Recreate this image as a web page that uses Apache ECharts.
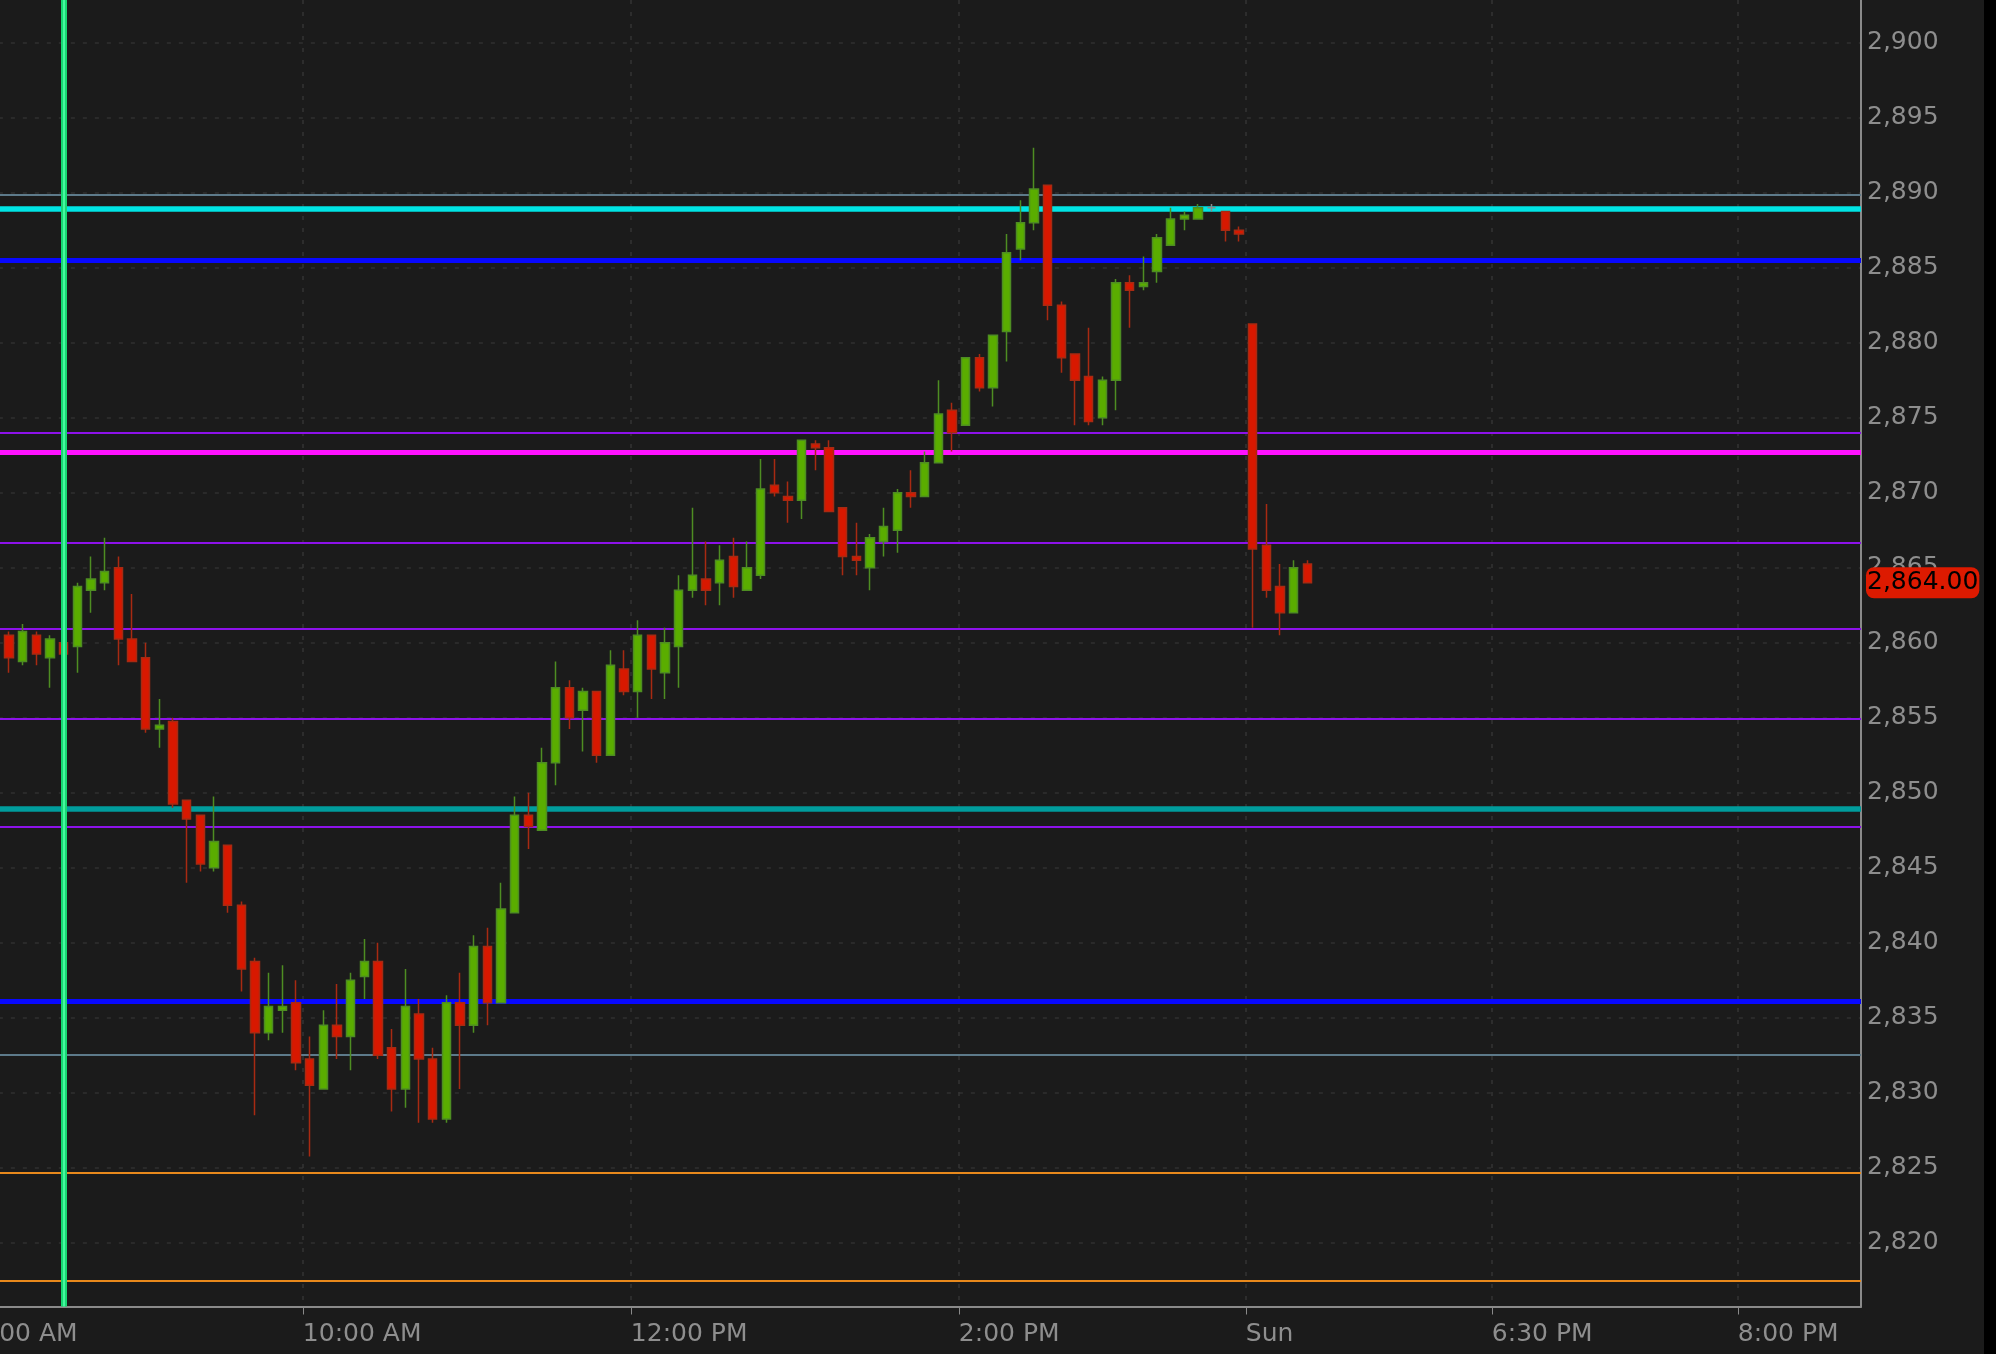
<!DOCTYPE html>
<html>
<head>
<meta charset="utf-8">
<script src="https://cdn.jsdelivr.net/npm/echarts@6/dist/echarts.min.js"></script>
<style>
  html, body { margin: 0; padding: 0; background: #000; }
  #chart { width: 1984px; height: 1354px; background: #1b1b1b; }
</style>
</head>
<body>
<div id="chart"></div>
<script>
// 5-minute candles, index 0..95
const opens = [
  2860.5, 2858.75, 2860.5, 2859.0, 2860.0, 2859.75, 2863.5, 2864.0, 2865.0, 2860.25,
  2859.0, 2854.25, 2854.75, 2849.5, 2848.5, 2845.0, 2846.5, 2842.5, 2838.75, 2834.0,
  2835.5, 2836.0, 2832.25, 2830.25, 2834.5, 2833.75, 2837.75, 2838.75, 2833.0, 2830.25,
  2835.25, 2832.25, 2828.25, 2836.0, 2834.5, 2839.75, 2836.0, 2842.0, 2848.5, 2847.5,
  2852.0, 2857.0, 2855.5, 2856.75, 2852.5, 2858.25, 2856.75, 2860.5, 2858.0, 2859.75,
  2863.5, 2864.25, 2864.0, 2865.75, 2863.5, 2864.5, 2870.5, 2869.75, 2869.5, 2873.25,
  2873.0, 2869.0, 2865.75, 2865.0, 2866.75, 2867.5, 2870.0, 2869.75, 2872.0, 2875.5,
  2874.5, 2879.0, 2877.0, 2880.75, 2886.25, 2888.0, 2890.5, 2882.5, 2879.25, 2877.75,
  2875.0, 2877.5, 2884.0, 2883.75, 2884.75, 2886.5, 2888.25, 2888.25, 2889.0, 2888.75,
  2887.5, 2881.25, 2866.5, 2863.75, 2862.0, 2865.25
];
const closes = [
  2859.0, 2860.75, 2859.25, 2860.25, 2859.25, 2863.75, 2864.25, 2864.75, 2860.25, 2858.75,
  2854.25, 2854.5, 2849.25, 2848.25, 2845.25, 2846.75, 2842.5, 2838.25, 2834.0, 2835.75,
  2835.75, 2832.0, 2830.5, 2834.5, 2833.75, 2837.5, 2838.75, 2832.5, 2830.25, 2835.75,
  2832.25, 2828.25, 2836.0, 2834.5, 2839.75, 2836.0, 2842.25, 2848.5, 2847.75, 2852.0,
  2857.0, 2855.0, 2856.75, 2852.5, 2858.5, 2856.75, 2860.5, 2858.25, 2860.0, 2863.5,
  2864.5, 2863.5, 2865.5, 2863.75, 2865.0, 2870.25, 2870.0, 2869.5, 2873.5, 2873.0,
  2868.75, 2865.75, 2865.5, 2867.0, 2867.75, 2870.0, 2869.75, 2872.0, 2875.25, 2874.0,
  2879.0, 2877.0, 2880.5, 2886.0, 2888.0, 2890.25, 2882.5, 2879.0, 2877.5, 2874.75,
  2877.5, 2884.0, 2883.5, 2884.0, 2887.0, 2888.25, 2888.5, 2889.0, 2889.0, 2887.5,
  2887.25, 2866.25, 2863.5, 2862.0, 2865.0, 2864.0
];
const highs = [
  2860.75, 2861.25, 2860.75, 2860.5, 2860.0, 2864.0, 2865.75, 2867.0, 2865.75, 2863.25,
  2860.0, 2856.25, 2855.0, 2849.5, 2848.5, 2849.75, 2846.5, 2842.75, 2839.0, 2838.0,
  2838.5, 2837.5, 2833.75, 2835.5, 2837.25, 2838.0, 2840.25, 2840.0, 2834.25, 2838.25,
  2836.25, 2833.0, 2836.5, 2838.0, 2840.5, 2841.0, 2844.0, 2849.75, 2850.0, 2853.0,
  2858.75, 2857.5, 2857.0, 2856.75, 2859.5, 2859.5, 2861.5, 2860.5, 2861.0, 2864.5,
  2869.0, 2866.75, 2866.5, 2867.0, 2866.75, 2872.25, 2872.25, 2870.75, 2873.5, 2873.5,
  2873.5, 2869.0, 2868.0, 2867.25, 2869.0, 2870.25, 2871.5, 2872.75, 2877.5, 2876.0,
  2879.0, 2879.25, 2880.5, 2887.25, 2889.5, 2893.0, 2890.5, 2882.75, 2879.25, 2881.0,
  2877.75, 2884.25, 2884.5, 2885.75, 2887.25, 2889.0, 2888.75, 2889.25, 2889.25, 2888.75,
  2887.75, 2881.25, 2869.25, 2865.25, 2865.5, 2865.5
];
const lows = [
  2858.0, 2858.5, 2858.5, 2857.0, 2859.25, 2858.0, 2862.0, 2863.5, 2858.5, 2858.75,
  2854.0, 2853.0, 2849.0, 2844.0, 2844.75, 2844.75, 2842.0, 2836.75, 2828.5, 2833.5,
  2834.0, 2831.5, 2825.75, 2830.25, 2832.25, 2831.5, 2836.25, 2832.25, 2828.75, 2829.0,
  2828.0, 2828.0, 2828.0, 2830.25, 2834.0, 2834.5, 2836.0, 2842.0, 2846.25, 2847.5,
  2850.5, 2854.25, 2852.75, 2852.0, 2852.5, 2856.5, 2855.0, 2856.25, 2856.25, 2857.0,
  2863.0, 2862.5, 2862.5, 2863.0, 2863.5, 2864.25, 2869.75, 2868.0, 2868.25, 2871.5,
  2868.75, 2864.5, 2864.5, 2863.5, 2865.75, 2866.0, 2869.0, 2869.75, 2872.0, 2872.75,
  2874.5, 2876.75, 2875.75, 2878.75, 2885.5, 2887.5, 2881.5, 2878.0, 2874.5, 2874.5,
  2874.5, 2875.5, 2881.0, 2883.5, 2884.0, 2886.5, 2887.5, 2888.25, 2888.75, 2886.75,
  2886.75, 2861.0, 2863.0, 2860.5, 2862.0, 2864.0
];

// axis ticks (x in candle-slot units)
const xTickValues = [-2.5, 21.5, 45.5, 69.5, 90.5, 108.5, 126.5];
const xTickLabels = ['8:00 AM', '10:00 AM', '12:00 PM', '2:00 PM', 'Sun', '6:30 PM', '8:00 PM'];
const yTickValues = [2820, 2825, 2830, 2835, 2840, 2845, 2850, 2855, 2860, 2865, 2870, 2875, 2880, 2885, 2890, 2895, 2900];

// horizontal price levels
const levelValues = [2889.85, 2888.9, 2885.47, 2874.0, 2872.67, 2866.67, 2860.93, 2854.93, 2848.91, 2847.73, 2836.11, 2832.53, 2824.67, 2817.47];
// vertical marker (candle slot)
const verticalMarks = [4];

// styles (kept separate from data)
const levelStyles = [
  { color: '#5d7a8a', width: 2 },
  { color: '#00e4e4', width: 5.5 },
  { color: '#0808ff', width: 5 },
  { color: '#8d12ea', width: 2 },
  { color: '#ff12ff', width: 5 },
  { color: '#8d12ea', width: 2 },
  { color: '#8d12ea', width: 2 },
  { color: '#8d12ea', width: 2 },
  { color: '#009c9c', width: 5.5 },
  { color: '#8d12ea', width: 2 },
  { color: '#0808ff', width: 5 },
  { color: '#5d7a8a', width: 2 },
  { color: '#e8891c', width: 2 },
  { color: '#e8891c', width: 2 }
];

const FONT = 'DejaVu Sans';
const candleData = opens.map((o, i) => [i, o, closes[i], lows[i], highs[i]]);
const lastClose = closes[closes.length - 1];
const fmt = (v, d) => v.toLocaleString('en-US', { minimumFractionDigits: d, maximumFractionDigits: d });
const Y_MIN = 2815.75, Y_MAX = 2902.85;

const chart = echarts.init(document.getElementById('chart'), null, { renderer: 'canvas' });

const option = {
  backgroundColor: '#1b1b1b',
  animation: false,
  grid: { left: -25.17, right: 123, top: 0, bottom: 47.5, containLabel: false, outerBoundsMode: 'none' },
  xAxis: {
    type: 'value',
    min: -2.5,
    max: 135.51,
    axisLine: { show: true, onZero: false, lineStyle: { color: '#8a8a8a', width: 2 } },
    axisTick: { show: true, customValues: xTickValues, length: 8, lineStyle: { color: '#8a8a8a', width: 1 } },
    axisLabel: {
      show: true,
      customValues: xTickValues,
      formatter: (v) => { const k = xTickValues.findIndex(t => Math.abs(t - v) < 1e-6); return k >= 0 ? xTickLabels[k] : ''; },
      align: 'left',
      margin: 15,
      color: '#8e8e8e',
      fontFamily: FONT,
      fontSize: 25,
      hideOverlap: false
    },
    splitLine: { show: true, lineStyle: { color: '#353535', width: 1.5, type: [4, 8] } }
  },
  yAxis: [
    {
      type: 'value',
      position: 'right',
      min: Y_MIN,
      max: Y_MAX,
      axisLine: { show: true, onZero: false, lineStyle: { color: '#8a8a8a', width: 2 } },
      axisTick: { show: false, customValues: yTickValues },
      axisLabel: {
        show: true,
        customValues: yTickValues,
        formatter: (v) => fmt(v, 0),
        margin: 6,
        padding: [6, 0, 0, 0],
        backgroundColor: 'rgba(0,0,0,0)',
        color: '#8e8e8e',
        fontFamily: FONT,
        fontSize: 25
      },
      splitLine: { show: true, lineStyle: { color: '#303030', width: 1.5, type: [4, 8] } }
    },
    {
      type: 'value',
      position: 'right',
      offset: 0,
      z: 5,
      min: Y_MIN,
      max: Y_MAX,
      axisLine: { show: false, onZero: false },
      axisTick: { show: false, customValues: [lastClose] },
      splitLine: { show: false },
      axisLabel: {
        show: true,
        customValues: [lastClose],
        formatter: (v) => fmt(v, 2),
        margin: 5,
        color: '#000',
        fontFamily: FONT,
        fontSize: 25,
        backgroundColor: '#dd1a00',
        borderRadius: 8,
        padding: [4, 1, 2, 1]
      }
    }
  ],
  series: [
    {
      name: 'levels',
      type: 'line',
      data: [],
      z: 1,
      silent: true,
      markLine: {
        z: 1,
        silent: true,
        animation: false,
        symbol: ['none', 'none'],
        label: { show: false },
        data: levelValues.map((v, i) => ({
          yAxis: v,
          lineStyle: { color: levelStyles[i].color, width: levelStyles[i].width, type: 'solid', opacity: 1 }
        }))
      }
    },
    {
      name: 'price',
      type: 'candlestick',
      z: 2,
      barWidth: 9,
      encode: { x: 0, y: [1, 2, 3, 4] },
      data: candleData,
      itemStyle: {
        color: '#5aad00',
        color0: '#d81800',
        borderColor: '#4e8d22',
        borderColor0: '#a82a12',
        borderColorDoji: '#8a8a8a',
        borderWidth: 1.5
      }
    },
    {
      name: 'marker',
      type: 'line',
      data: [],
      z: 3,
      silent: true,
      markLine: {
        z: 3,
        silent: true,
        animation: false,
        symbol: ['none', 'none'],
        label: { show: false },
        data: verticalMarks.map(v => ({ xAxis: v, lineStyle: { color: '#17d872', width: 6, type: 'solid', opacity: 1 } }))
          .concat(verticalMarks.map(v => ({ xAxis: v, lineStyle: { color: '#46f7a0', width: 2, type: 'solid', opacity: 1 } })))
      }
    }
  ]
};

chart.setOption(option);
</script>
</body>
</html>
